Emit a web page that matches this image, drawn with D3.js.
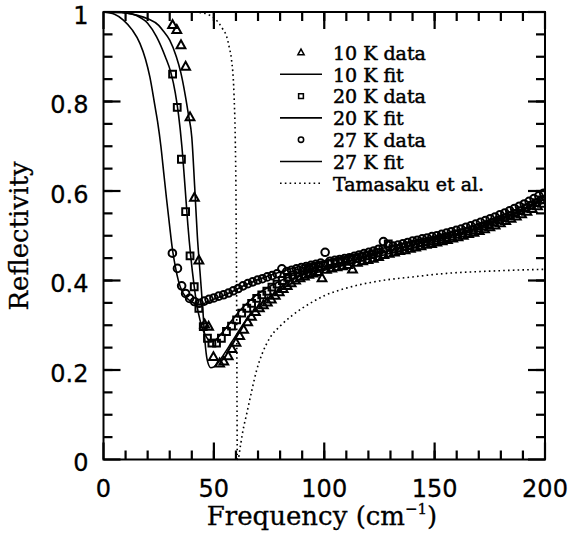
<!DOCTYPE html>
<html>
<head>
<meta charset="utf-8">
<script src="https://cdn.jsdelivr.net/npm/d3@7"></script>
<style>
  body { margin: 0; background: #fff; }
  svg { display: block; }
</style>
</head>
<body>
<div id="container"></div>
<script>
let w = 569;
let h = 539;
let plotLeft = 103.5, plotRight = 545, plotTop = 12, plotBottom = 459.5;

// [frequency (cm-1), reflectivity]
let data10K = [[31.3,0.971],[33.2,0.96],[35.1,0.926],[37.2,0.878],[39.2,0.765],[41.2,0.585],[43.2,0.445],[45.8,0.302],[47.6,0.297],[49.8,0.229],[52.6,0.215],[54.5,0.219],[56.5,0.231],[58.2,0.247],[60,0.261],[61.7,0.276],[63.5,0.29],[65.3,0.307],[67,0.319],[68.8,0.33],[70.6,0.338],[72.4,0.345],[74.2,0.351],[76,0.358],[77.8,0.366],[79.6,0.374],[81.4,0.381],[83.2,0.388],[85,0.394],[87,0.4],[89,0.405],[91,0.409],[93,0.413],[95,0.416],[97,0.419],[99,0.405],[101,0.424],[103.4,0.427],[105.8,0.43],[108.2,0.432],[110.6,0.435],[112.8,0.425],[115,0.44],[117.4,0.443],[119.8,0.446],[122.2,0.449],[124.6,0.453],[127,0.457],[129.4,0.46],[131.8,0.463],[134.2,0.466],[136.6,0.468],[139,0.471],[141.4,0.474],[143.8,0.477],[146.2,0.48],[148.6,0.482],[151,0.485],[153.4,0.488],[155.8,0.491],[158.2,0.494],[160.6,0.497],[163,0.5],[165.4,0.504],[167.8,0.507],[170.2,0.511],[172.6,0.515],[175,0.519],[177.4,0.523],[179.8,0.528],[182.2,0.533],[184.6,0.538],[187,0.543],[189.4,0.548],[191.8,0.554],[194.2,0.56],[196.6,0.566],[199,0.572]];

let data20K = [[31.3,0.861],[33.4,0.787],[35.3,0.671],[37.2,0.554],[39.2,0.455],[41.1,0.386],[43.2,0.338],[45.2,0.297],[47.1,0.271],[49.1,0.26],[51.2,0.26],[53.4,0.271],[55.7,0.286],[58,0.298],[60.3,0.312],[62.6,0.327],[64.9,0.338],[67.1,0.349],[69.4,0.36],[71.7,0.368],[74,0.376],[76.3,0.385],[78.6,0.392],[81,0.4],[83.4,0.407],[85.8,0.412],[88.2,0.417],[90.6,0.421],[93,0.425],[95.4,0.428],[97.8,0.431],[100.2,0.434],[102.6,0.437],[105,0.439],[107.4,0.441],[109.8,0.443],[112.2,0.446],[114.6,0.449],[117,0.452],[119.4,0.455],[121.8,0.458],[124.2,0.462],[126.6,0.47],[129,0.482],[131.4,0.47],[133.8,0.472],[136.2,0.475],[138.6,0.478],[141,0.481],[143.4,0.484],[145.8,0.486],[148.2,0.488],[150.6,0.49],[153,0.493],[155.4,0.496],[157.8,0.499],[160.2,0.503],[162.6,0.506],[165,0.51],[167.4,0.513],[169.8,0.517],[172.2,0.521],[174.6,0.525],[177,0.53],[179.4,0.535],[181.8,0.54],[184.2,0.545],[186.6,0.55],[189,0.556],[191.4,0.562],[193.8,0.568],[196.2,0.574],[198.6,0.58]];

let data27K = [[31.2,0.461],[33.5,0.427],[35.4,0.388],[37.2,0.371],[39,0.36],[41.2,0.353],[43.3,0.349],[45.6,0.354],[47.8,0.358],[50,0.361],[52.2,0.365],[54.4,0.368],[56.6,0.372],[58.8,0.377],[61,0.382],[63.2,0.388],[65.4,0.393],[67.6,0.397],[69.8,0.401],[72,0.404],[74.2,0.408],[76.4,0.411],[78.6,0.415],[80.8,0.426],[83,0.42],[85.2,0.423],[87.4,0.426],[89.6,0.429],[91.8,0.431],[94,0.434],[96.2,0.436],[98.4,0.439],[100.4,0.463],[102.6,0.443],[104.8,0.445],[107,0.447],[109.2,0.449],[111.4,0.451],[113.6,0.454],[115.8,0.457],[118,0.46],[120.2,0.463],[122.4,0.466],[124.6,0.47],[126.8,0.487],[129,0.478],[131.2,0.477],[133.4,0.479],[135.6,0.482],[137.8,0.485],[140,0.488],[142.2,0.49],[144.4,0.493],[146.6,0.495],[148.8,0.498],[151,0.5],[153.2,0.503],[155.4,0.506],[157.6,0.509],[159.8,0.512],[162,0.515],[164.2,0.519],[166.4,0.522],[168.6,0.526],[170.8,0.53],[173,0.534],[175.2,0.538],[177.4,0.542],[179.6,0.547],[181.8,0.551],[184,0.556],[186.2,0.561],[188.4,0.566],[190.6,0.571],[192.8,0.577],[195,0.583],[197.2,0.589],[199.4,0.595]];

let fit10K = [[0,1],[10,0.998],[15,0.993],[20,0.985],[25,0.97],[27,0.958],[30,0.937],[33,0.9],[35,0.865],[37,0.815],[38.5,0.77],[40,0.72],[41.3,0.61],[42.5,0.5],[43.7,0.42],[45,0.335],[46,0.262],[47,0.222],[48.6,0.205],[50,0.207],[52,0.217],[54,0.231],[56,0.246],[58,0.262],[60,0.277],[62,0.293],[65,0.314],[68,0.332],[71,0.347],[75,0.363],[80,0.379],[85,0.393],[90,0.405],[95,0.415],[100,0.423],[110,0.436],[120,0.448],[130,0.461],[140,0.473],[150,0.486],[160,0.5],[170,0.514],[180,0.531],[190,0.552],[200,0.576]];

let fit20K = [[0,1],[10,0.998],[15,0.992],[20,0.975],[24,0.945],[28,0.9],[30.5,0.865],[32.5,0.82],[34,0.77],[35.5,0.7],[37,0.605],[38.2,0.525],[39.5,0.455],[41,0.39],[42.3,0.345],[43.7,0.312],[45,0.29],[46.7,0.273],[48.6,0.264],[50.5,0.266],[53,0.279],[56,0.297],[59,0.316],[62,0.334],[65.6,0.352],[70,0.37],[75,0.386],[80,0.399],[85,0.41],[90,0.419],[100,0.432],[110,0.443],[120,0.455],[130,0.467],[140,0.479],[150,0.491],[160,0.504],[170,0.518],[180,0.536],[190,0.557],[200,0.583]];

let fit27K = [[0,1],[5,0.995],[9,0.982],[13,0.96],[16.5,0.93],[19,0.895],[21,0.855],[23.3,0.79],[24.5,0.755],[26,0.7],[27.3,0.64],[28.5,0.585],[30,0.52],[31,0.478],[32.5,0.432],[34,0.398],[35.5,0.377],[37.5,0.362],[40,0.352],[42.5,0.347],[44.5,0.347],[47,0.352],[50,0.358],[54,0.366],[58.7,0.376],[63,0.387],[68,0.398],[74,0.409],[80,0.419],[90,0.433],[100,0.444],[110,0.454],[120,0.465],[130,0.476],[140,0.487],[150,0.499],[160,0.512],[170,0.527],[180,0.545],[190,0.566],[200,0.591]];

let tamasaku = [[0,1],[40,1],[45,0.998],[48,0.993],[50,0.987],[52,0.977],[54,0.962],[55.8,0.945],[57,0.92],[58,0.893],[59.1,0.818],[59.7,0.714],[60,0.6],[60.2,0.45],[60.4,0.25],[60.5,0.1],[60.6,0.0],[60.9,0.0],[62,0.03],[63,0.06],[65,0.105],[67,0.15],[69.4,0.2],[72,0.238],[75.4,0.272],[80,0.298],[85,0.32],[90,0.338],[95,0.353],[100,0.366],[110,0.383],[125,0.399],[140,0.408],[155.5,0.416],[170.6,0.42],[185.6,0.423],[200,0.425]];

let xMajor = [0, 50, 100, 150, 200];
let xMinor = d3.range(10, 200, 10);
let yMajor = [0, 0.2, 0.4, 0.6, 0.8, 1];
let yMinor = d3.range(0.05, 1, 0.05);
let yLabels = ["0", "0.2", "0.4", "0.6", "0.8", "1"];

let legendLabels = ["10 K data", "10 K fit", "20 K data", "20 K fit", "27 K data", "27 K fit", "Tamasaku et al."];
let legendKinds = ["tri", "line", "sq", "line", "circ", "line", "dot"];

let viz = d3.select("#container")
  .append("svg")
    .attr("width", w)
    .attr("height", h)
;

let xScale = d3.scaleLinear().domain([0, 200]).range([plotLeft, plotRight]);
let yScale = d3.scaleLinear().domain([0, 1]).range([plotBottom, plotTop]);

let tickFont = "'DejaVu Sans', sans-serif";
let titleFont = "'DejaVu Serif', serif";

viz.append('rect')
  .attr('x', plotLeft).attr('y', plotTop)
  .attr('width', plotRight - plotLeft).attr('height', plotBottom - plotTop)
  .attr('fill', 'none').attr('stroke', 'black').attr('stroke-width', 2);

// inward ticks on all four sides, drawn as small filled bars
let tickG = viz.append('g').attr('fill', 'black');
let tw = 2.2;
function xTicks(values, len){
  values.forEach(function(v){
    tickG.append('rect').attr('x', xScale(v) - tw / 2).attr('y', plotBottom - len).attr('width', tw).attr('height', len);
    tickG.append('rect').attr('x', xScale(v) - tw / 2).attr('y', plotTop).attr('width', tw).attr('height', len);
  });
}
function yTicks(values, len){
  values.forEach(function(v){
    tickG.append('rect').attr('x', plotLeft).attr('y', yScale(v) - tw / 2).attr('width', len).attr('height', tw);
    tickG.append('rect').attr('x', plotRight - len).attr('y', yScale(v) - tw / 2).attr('width', len).attr('height', tw);
  });
}
xTicks(xMinor, 9);
xTicks(xMajor, 17);
yTicks(yMinor, 9);
yTicks(yMajor, 17);

viz.append('g').selectAll('text').data(xMajor).enter().append('text')
  .attr('x', function(d){ return xScale(d); })
  .attr('y', plotBottom + 37)
  .attr('text-anchor', 'middle')
  .attr('font-family', tickFont).attr('font-size', 24).attr('fill', 'black')
  .attr('stroke', 'black').attr('stroke-width', 0.3)
  .text(function(d){ return d; });

viz.append('g').selectAll('text').data(yMajor).enter().append('text')
  .attr('x', plotLeft - 15)
  .attr('y', function(d){ return yScale(d) + 11.5; })
  .attr('text-anchor', 'end')
  .attr('font-family', tickFont).attr('font-size', 24).attr('fill', 'black')
  .attr('stroke', 'black').attr('stroke-width', 0.3)
  .text(function(d, i){ return yLabels[i]; });

viz.append('defs').append('clipPath').attr('id', 'plotclip')
  .append('rect').attr('x', plotLeft).attr('y', plotTop - 1).attr('width', plotRight - plotLeft).attr('height', plotBottom - plotTop + 2);

let plot = viz.append('g').attr('clip-path', 'url(#plotclip)');

let line = d3.line()
  .x(function(d){ return xScale(d[0]); })
  .y(function(d){ return yScale(d[1]); })
  .curve(d3.curveMonotoneX);

plot.append('path').datum(tamasaku)
  .attr('d', line).attr('fill', 'none').attr('stroke', 'black')
  .attr('stroke-width', 1.6).attr('stroke-dasharray', '1.6,3.2');

[fit10K, fit20K, fit27K].forEach(function(f){
  plot.append('path').datum(f)
    .attr('d', line).attr('fill', 'none').attr('stroke', 'black').attr('stroke-width', 1.6);
});

let triPath = 'M0,-4.8L4.4,3.1L-4.4,3.1Z';
let sqPath = 'M-3.4,-3.4H3.4V3.4H-3.4Z';
let circPath = d3.symbol(d3.symbolCircle, Math.PI * 3.8 * 3.8)();

function drawMarks(data, kind){
  let g = plot.append('g');
  let sel = g.selectAll('path').data(data).enter().append('path')
    .attr('transform', function(d){ return 'translate(' + xScale(d[0]) + ',' + yScale(d[1]) + ')'; })
    .attr('fill', 'none').attr('stroke', 'black').attr('stroke-width', 2);
  if (kind === 'tri') sel.attr('d', triPath);
  else if (kind === 'sq') sel.attr('d', sqPath);
  else sel.attr('d', circPath);
}

drawMarks(data10K, 'tri');
drawMarks(data20K, 'sq');
drawMarks(data27K, 'circ');

// legend
let legend = viz.append('g');
legendLabels.forEach(function(label, i){
  let y = 52.5 + i * 21.8;
  let kind = legendKinds[i];
  if (kind === 'line' || kind === 'dot') {
    legend.append('line').attr('x1', 280).attr('x2', 322).attr('y1', y).attr('y2', y)
      .attr('stroke', 'black').attr('stroke-width', 1.6)
      .attr('stroke-dasharray', kind === 'dot' ? '1.6,3.2' : null);
  } else {
    let m = legend.append('path').attr('transform', 'translate(301,' + y + ') scale(0.7)')
      .attr('fill', 'white').attr('stroke', 'black').attr('stroke-width', 2.2);
    if (kind === 'tri') m.attr('d', triPath);
    else if (kind === 'sq') m.attr('d', sqPath);
    else m.attr('d', circPath);
  }
  legend.append('text').attr('x', 333).attr('y', y).attr('dy', '0.38em')
    .attr('font-family', titleFont).attr('font-size', 19).attr('fill', 'black')
    .attr('stroke', 'black').attr('stroke-width', 0.5)
    .text(label);
});

// axis titles
viz.append('text')
  .attr('transform', 'translate(28,236) rotate(-90)')
  .attr('text-anchor', 'middle')
  .attr('font-family', titleFont).attr('font-size', 26).attr('fill', 'black')
  .attr('stroke', 'black').attr('stroke-width', 0.3)
  .text('Reflectivity');

let xt = viz.append('text')
  .attr('x', 322).attr('y', 525)
  .attr('text-anchor', 'middle')
  .attr('font-family', titleFont).attr('font-size', 26).attr('fill', 'black')
  .attr('stroke', 'black').attr('stroke-width', 0.3);
xt.append('tspan').text('Frequency (cm');
xt.append('tspan').attr('font-size', 15).attr('dy', -11).text('\u22121');
xt.append('tspan').attr('dy', 11).text(')');
</script>
</body>
</html>
